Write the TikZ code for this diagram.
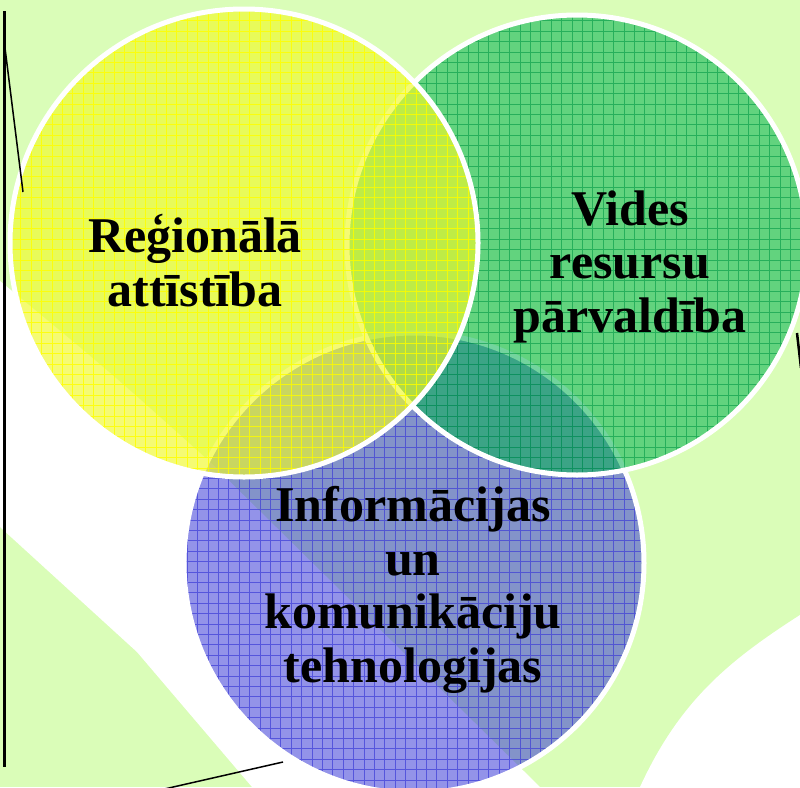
\documentclass[tikz,border=0pt]{standalone}
\usepackage{fontspec}
\setmainfont{Liberation Serif}
\usetikzlibrary{positioning}
\definecolor{meadow}{RGB}{218,253,184}
\definecolor{lemon}{RGB}{240,250,40}
\definecolor{lemonline}{RGB}{255,255,0}
\definecolor{leafgreen}{RGB}{0,178,80}
\definecolor{vennblue}{RGB}{60,60,215}

\begin{document}
\begin{tikzpicture}[x=1pt, y=-1pt,
    ring/.style={draw=white, line width=5pt},
    mesh/.style={line width=0.9pt, step=10.4pt},
    venntext/.style={align=center, inner sep=0pt, anchor=base,
                     font=\fontsize{50}{53.5}\selectfont\bfseries},
    edge/.style={black, line width=1.5pt}
  ]
  \useasboundingbox (0,0) rectangle (800,787);
  \fill[meadow] (0,0) rectangle (800,787);
  % white patches of the map behind
  \fill[white] (0,281) .. controls (110,372) .. (210,462) -- (540,787)
    -- (252,787) -- (137,652) -- (0,527) -- cycle;
  \fill[white] (800,615) .. controls (730,660) and (680,700) .. (640,787)
    -- (800,787) -- cycle;

  \coordinate (ict) at (414,563);
  \coordinate (env) at (577,245);
  \coordinate (reg) at (244,243);

  % blue circle
  \fill[vennblue, opacity=0.55] (ict) circle (230);
  \begin{scope}
    \clip (ict) circle (230);
    \draw[mesh, vennblue, opacity=0.7] (150,320) grid (680,800);
  \end{scope}
  \draw[ring] (ict) circle (230);

  % green circle
  \fill[leafgreen, opacity=0.55] (env) circle (230);
  \begin{scope}
    \clip (env) circle (230);
    \draw[mesh, leafgreen!85!black, opacity=0.6] (340,10) grid (810,480);
  \end{scope}
  \draw[ring] (env) circle (230);

  % yellow circle
  \fill[lemon, opacity=0.65] (reg) circle (234);
  \begin{scope}
    \clip (reg) circle (234);
    \draw[mesh, lemonline, opacity=0.85] (5,5) grid (480,480);
  \end{scope}
  \draw[ring] (reg) circle (234);

  % texts
  \node[venntext] (regtext) at (195,306) {Reģionālā\\attīstība};
  \node[venntext] (envtext) at (630,332) {Vides\\resursu\\pārvaldība};
  \node[venntext] (icttext) at (413,682) {Informācijas\\un\\komunikāciju\\tehnologijas};

  % leftover map lines
  \coordinate (lefttop) at (4,11);
  \coordinate (leftbot) at (4,767);
  \coordinate (slantA) at (4,40);
  \coordinate (slantB) at (23,192);
  \coordinate (baseA) at (283,762);
  \coordinate (baseB) at (160,790);
  \coordinate (rightA) at (797,333);
  \coordinate (rightB) at (801,368);
  \draw[black, line width=3pt] (lefttop) -- (leftbot);
  \draw[edge] (slantA) -- (slantB);
  \draw[edge] (baseA) -- (baseB);
  \draw[black, line width=2.5pt] (rightA) -- (rightB);
\end{tikzpicture}
\end{document}
